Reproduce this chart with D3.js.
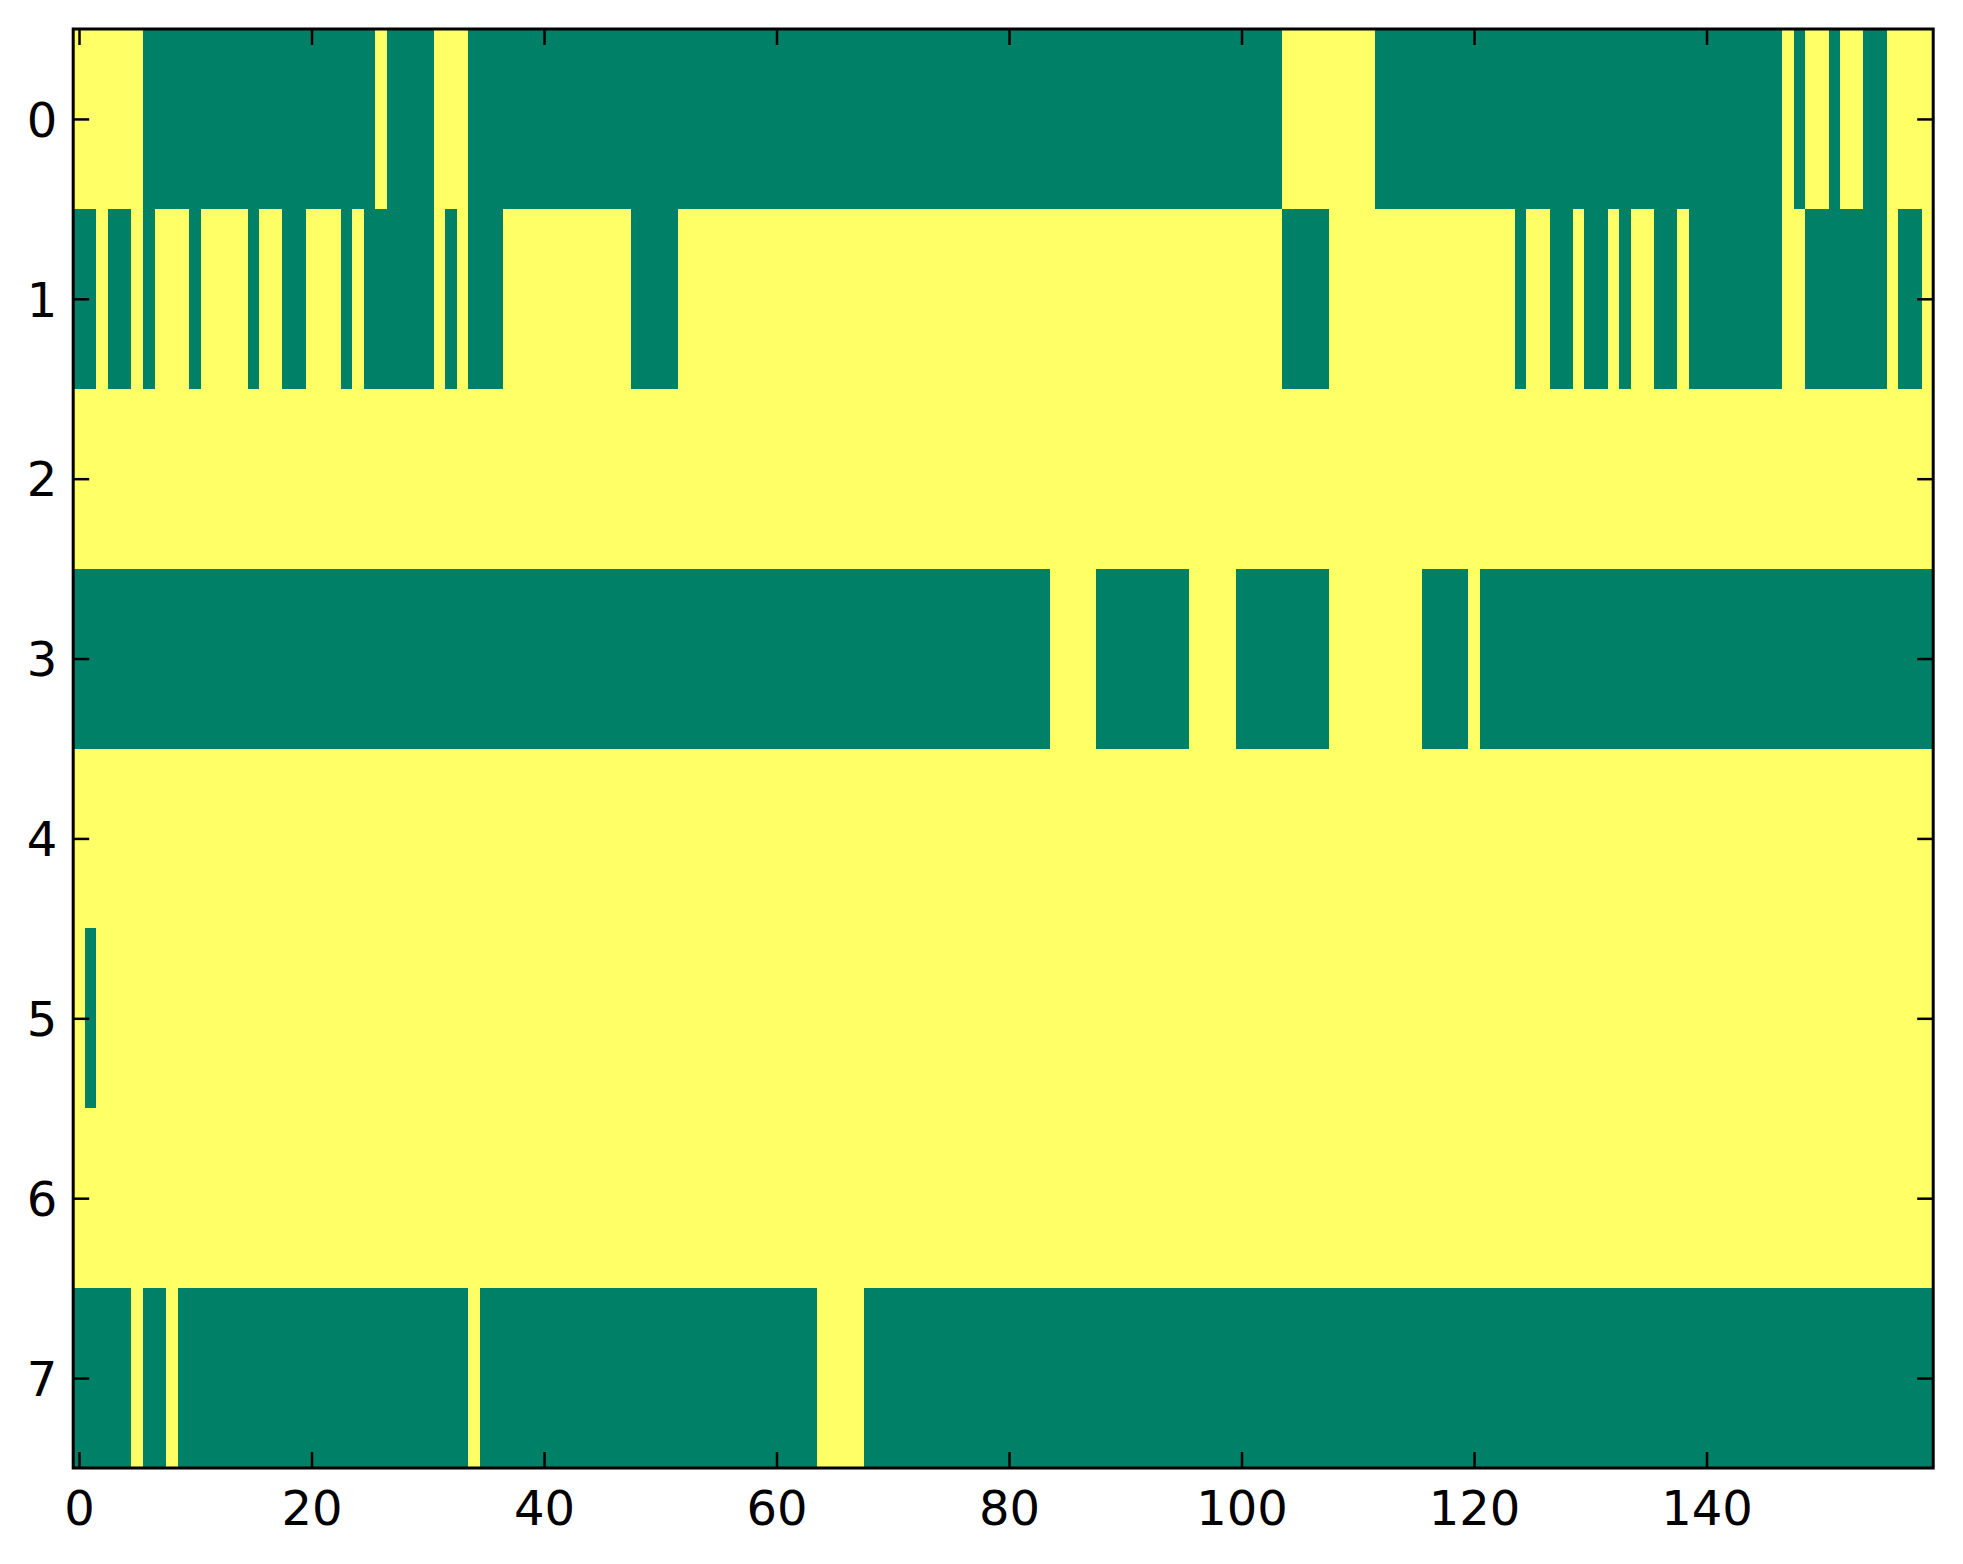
<!DOCTYPE html>
<html>
<head>
<meta charset="utf-8">
<script src="https://cdn.jsdelivr.net/npm/d3@7"></script>
<style>
  html, body { margin: 0; padding: 0; background: #ffffff; }
  svg { display: block; }
</style>
</head>
<body>
<svg id="chart" width="1963" height="1564"></svg>
<script>
// Binary matrix (8 rows x 160 columns); 1 = yellow, 0 = green. Each string is 10 columns.
const row0 = ["1111110000","0000000000","0000001000","0111000000","0000000000","0000000000",
              "0000000000","0000000000","0000000000","0000000000","0000111111","1100000000",
              "0000000000","0000000000","0000000101","1011001111"];
const row1 = ["0010010111","0111101100","1110100000","0101000111","1111111100","0011111111",
              "1111111111","1111111111","1111111111","1111111111","1111000011","1111111111",
              "1111011001","0010110010","0000000110","0000001001"];
const row2 = ["1111111111","1111111111","1111111111","1111111111","1111111111","1111111111",
              "1111111111","1111111111","1111111111","1111111111","1111111111","1111111111",
              "1111111111","1111111111","1111111111","1111111111"];
const row3 = ["0000000000","0000000000","0000000000","0000000000","0000000000","0000000000",
              "0000000000","0000000000","0000111100","0000001111","0000000011","1111110000",
              "1000000000","0000000000","0000000000","0000000000"];
const row4 = ["1111111111","1111111111","1111111111","1111111111","1111111111","1111111111",
              "1111111111","1111111111","1111111111","1111111111","1111111111","1111111111",
              "1111111111","1111111111","1111111111","1111111111"];
const row5 = ["1011111111","1111111111","1111111111","1111111111","1111111111","1111111111",
              "1111111111","1111111111","1111111111","1111111111","1111111111","1111111111",
              "1111111111","1111111111","1111111111","1111111111"];
const row6 = ["1111111111","1111111111","1111111111","1111111111","1111111111","1111111111",
              "1111111111","1111111111","1111111111","1111111111","1111111111","1111111111",
              "1111111111","1111111111","1111111111","1111111111"];
const row7 = ["0000010010","0000000000","0000000000","0000100000","0000000000","0000000000",
              "0000111100","0000000000","0000000000","0000000000","0000000000","0000000000",
              "0000000000","0000000000","0000000000","0000000000"];
const rows = [row0, row1, row2, row3, row4, row5, row6, row7];
const xTicks = [0, 20, 40, 60, 80, 100, 120, 140];
const yTicks = [0, 1, 2, 3, 4, 5, 6, 7];

(function () {
  const matrix = rows.map(r => r.join("").split("").map(Number));
  const nCols = matrix[0].length;
  const nRows = matrix.length;

  const pL = 73.2, pR = 1933.2, pT = 29, pB = 1468;
  const x = d3.scaleLinear().domain([-0.5, nCols - 0.5]).range([pL, pR]);
  const y = d3.scaleLinear().domain([-0.5, nRows - 0.5]).range([pT, pB]);
  const color = d3.scaleLinear().domain([0, 1]).range(["#008066", "#ffff66"]);

  const svg = d3.select("#chart");

  const cells = [];
  matrix.forEach((r, ri) => r.forEach((v, ci) => cells.push({ r: ri, c: ci, v })));

  svg.append("g")
    .attr("shape-rendering", "crispEdges")
    .selectAll("rect")
    .data(cells)
    .join("rect")
    .attr("x", d => x(d.c - 0.5))
    .attr("y", d => y(d.r - 0.5))
    .attr("width", d => x(d.c + 0.5) - x(d.c - 0.5) + 0.4)
    .attr("height", d => y(d.r + 0.5) - y(d.r - 0.5) + 0.4)
    .attr("fill", d => color(d.v));

  const font = "DejaVu Sans";
  const tickLen = 16;

  const gB = svg.append("g").attr("transform", `translate(0,${pB})`)
    .call(d3.axisBottom(x).tickValues(xTicks).tickSize(-tickLen).tickFormat(d3.format("d")));
  const gT = svg.append("g").attr("transform", `translate(0,${pT})`)
    .call(d3.axisTop(x).tickValues(xTicks).tickSize(-tickLen).tickFormat(""));
  const gL = svg.append("g").attr("transform", `translate(${pL},0)`)
    .call(d3.axisLeft(y).tickValues(yTicks).tickSize(-tickLen).tickFormat(d3.format("d")));
  const gR = svg.append("g").attr("transform", `translate(${pR},0)`)
    .call(d3.axisRight(y).tickValues(yTicks).tickSize(-tickLen).tickFormat(""));

  [gB, gT, gL, gR].forEach(g => {
    g.select(".domain").remove();
    g.selectAll(".tick line").attr("stroke", "#000").attr("stroke-width", 2.5);
    g.selectAll(".tick text")
      .attr("font-family", font)
      .attr("font-size", 48)
      .attr("fill", "#000");
  });
  gB.selectAll(".tick text").attr("dy", null).attr("y", 57);
  gL.selectAll(".tick text").attr("dy", "0.36em").attr("x", -16);

  svg.append("rect")
    .attr("x", pL).attr("y", pT)
    .attr("width", pR - pL).attr("height", pB - pT)
    .attr("fill", "none").attr("stroke", "#000").attr("stroke-width", 3);
})();
</script>
</body>
</html>
